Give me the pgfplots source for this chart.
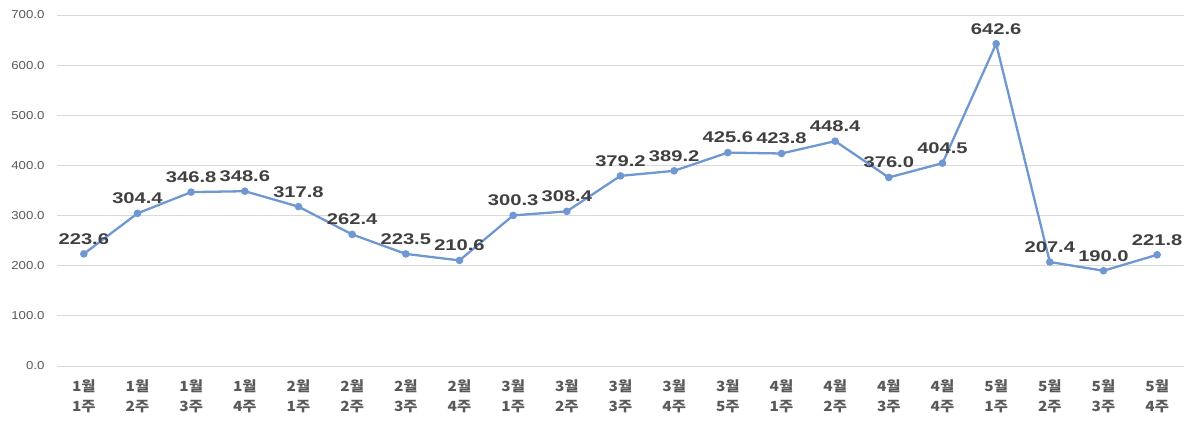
\documentclass[border=0pt]{standalone}
\usepackage{pgfplots}
\pgfplotsset{compat=1.18}
\usepackage{pgfplotstable}
\usepackage{fontspec}
\setmainfont{Liberation Sans}
\newfontfamily\kr{Noto Sans CJK KR}[FakeStretch=1.1]
\newfontfamily\lbl{Liberation Sans}[FakeStretch=1.3]
\newfontfamily\tck{Liberation Sans}[FakeStretch=1.15]

\definecolor{linec}{HTML}{6F98D2}
\definecolor{valc}{HTML}{404040}
\definecolor{tickc}{HTML}{595959}
\definecolor{gridc}{HTML}{D9D9D9}

% weekly values, Jan week 1 to May week 4
\pgfplotstableread{
x y
0 223.6
1 304.4
2 346.8
3 348.6
4 317.8
5 262.4
6 223.5
7 210.6
8 300.3
9 308.4
10 379.2
11 389.2
12 425.6
13 423.8
14 448.4
15 376.0
16 404.5
17 642.6
18 207.4
19 190.0
20 221.8
}\weekly

\begin{document}
\begin{tikzpicture}
\path[use as bounding box] (0,0) rectangle (1200bp,425bp);
\begin{axis}[
  at={(57bp,59bp)}, anchor=south west,
  scale only axis,
  width=1127bp, height=351bp,
  xmin=-0.5, xmax=20.5,
  ymin=0, ymax=700,
  ytick={0,100,...,700},
  xtick={0,...,20},
  xticklabels={
    {1월\\1주},{1월\\2주},{1월\\3주},{1월\\4주},
    {2월\\1주},{2월\\2주},{2월\\3주},{2월\\4주},
    {3월\\1주},{3월\\2주},{3월\\3주},{3월\\4주},{3월\\5주},
    {4월\\1주},{4월\\2주},{4월\\3주},{4월\\4주},
    {5월\\1주},{5월\\2주},{5월\\3주},{5월\\4주}},
  xticklabel style={font=\kr\bfseries\fontsize{14bp}{20.5bp}\selectfont,
    text=tickc, align=center, yshift=-10bp},
  scaled y ticks=false,
  yticklabel style={font=\tck\fontsize{11.5bp}{12bp}\selectfont, text=tickc,
    xshift=-9bp,
    /pgf/number format/.cd, fixed, fixed zerofill, precision=1,
    assume math mode=true},
  axis line style={draw=none},
  major tick length=0pt,
  ymajorgrids,
  grid style={gridc, line width=0.8bp},
  clip=false,
]
\addplot[color=linec, line width=2.3bp, mark=*, mark size=2.6bp,
  mark options={fill=linec, draw=linec},
  nodes near coords={\pgfmathprintnumber[fixed,fixed zerofill,precision=1,assume math mode=true]{\pgfplotspointmeta}},
  every node near coord/.append style={font=\lbl\bfseries\fontsize{15.5bp}{16bp}\selectfont,
    text=valc, anchor=south, yshift=5bp}]
  table[x=x, y=y] {\weekly};
\end{axis}
\end{tikzpicture}
\end{document}
